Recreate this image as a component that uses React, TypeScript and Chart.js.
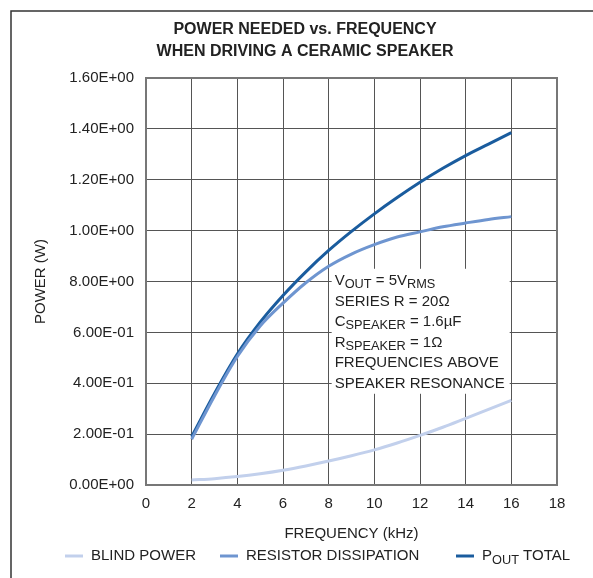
import React, { useEffect, useRef } from "react";
import { Chart, registerables } from "chart.js";

Chart.register(...registerables);

const titleLines = ["POWER NEEDED vs. FREQUENCY", "WHEN DRIVING A CERAMIC SPEAKER"];
const xAxisTitle = "FREQUENCY (kHz)";
const yAxisTitle = "POWER (W)";
const yTickLabels = [
  "0.00E+00",
  "2.00E-01",
  "4.00E-01",
  "6.00E-01",
  "8.00E+00",
  "1.00E+00",
  "1.20E+00",
  "1.40E+00",
  "1.60E+00",
];
const frequencyKHz = [2, 3, 4, 5, 6, 7, 8, 9, 10, 11, 12, 13, 14, 15, 16];
const blindPower = [0.02, 0.025, 0.033, 0.044, 0.058, 0.075, 0.094, 0.115, 0.138, 0.165, 0.195, 0.227, 0.262, 0.297, 0.333];
const resistorDissipation = [0.18, 0.35, 0.505, 0.625, 0.715, 0.795, 0.86, 0.908, 0.945, 0.975, 0.995, 1.015, 1.03, 1.044, 1.055];
const poutTotal = [0.19, 0.36, 0.515, 0.64, 0.745, 0.838, 0.922, 0.997, 1.066, 1.13, 1.19, 1.245, 1.295, 1.34, 1.385];
const seriesNames = ["BLIND POWER", "RESISTOR DISSIPATION", "P_{OUT} TOTAL"];
const seriesColors = ["#c2d0ec", "#6e95d0", "#1a5c9e"];
const noteLines = [
  "V_{OUT} = 5V_{RMS}",
  "SERIES R = 20Ω",
  "C_{SPEAKER} = 1.6µF",
  "R_{SPEAKER} = 1Ω",
  "FREQUENCIES ABOVE",
  "SPEAKER RESONANCE",
];

const FONT = '"Liberation Sans", Arial, Helvetica, sans-serif';
const TEXT_COLOR = "#222";

type Part = { t: string; sub: boolean };
function parseRich(s: string): Part[] {
  const parts: Part[] = [];
  const re = /_\{([^}]*)\}/g;
  let last = 0;
  let m: RegExpExecArray | null;
  while ((m = re.exec(s))) {
    if (m.index > last) parts.push({ t: s.slice(last, m.index), sub: false });
    parts.push({ t: m[1], sub: true });
    last = re.lastIndex;
  }
  if (last < s.length) parts.push({ t: s.slice(last), sub: false });
  return parts;
}

function drawRich(ctx: CanvasRenderingContext2D, s: string, x: number, y: number, size: number) {
  let cx = x;
  for (const p of parseRich(s)) {
    ctx.font = `${p.sub ? size * 0.85 : size}px ${FONT}`;
    ctx.fillText(p.t, cx, p.sub ? y + 4 : y);
    cx += ctx.measureText(p.t).width;
  }
  return cx;
}

const decorPlugin = {
  id: "decor",
  beforeDraw(chart: any) {
    const ctx: CanvasRenderingContext2D = chart.ctx;
    ctx.save();
    ctx.fillStyle = "#fff";
    ctx.fillRect(0, 0, chart.width, chart.height);
    ctx.strokeStyle = "#333";
    ctx.lineWidth = 1.5;
    ctx.beginPath();
    ctx.moveTo(11, chart.height + 2);
    ctx.lineTo(11, 11);
    ctx.lineTo(chart.width + 2, 11);
    ctx.stroke();
    ctx.fillStyle = TEXT_COLOR;
    ctx.font = `bold 16px ${FONT}`;
    ctx.textAlign = "center";
    ctx.textBaseline = "middle";
    titleLines.forEach((line, i) => ctx.fillText(line, 305, 30 + i * 22));
    ctx.restore();
  },
  beforeDatasetsDraw(chart: any) {
    const ctx: CanvasRenderingContext2D = chart.ctx;
    const { left, top, right, bottom } = chart.chartArea;
    const xs = chart.scales.x;
    const ys = chart.scales.y;
    ctx.save();
    ctx.strokeStyle = "#777";
    ctx.lineWidth = 2;
    ctx.strokeRect(left, top, right - left, bottom - top);
    const bx = xs.getPixelForValue(8) + 3;
    const by = ys.getPixelForValue(0.85);
    ctx.fillStyle = "#fff";
    ctx.fillRect(bx, by, 178, 125);
    ctx.fillStyle = TEXT_COLOR;
    ctx.textAlign = "left";
    ctx.textBaseline = "middle";
    noteLines.forEach((line, i) => drawRich(ctx, line, bx + 3, by + 12 + i * 20.6, 15));
    ctx.restore();
  },
  afterDraw(chart: any) {
    const ctx: CanvasRenderingContext2D = chart.ctx;
    ctx.save();
    const starts = [65, 220, 456];
    const y = 556;
    ctx.textAlign = "left";
    ctx.textBaseline = "middle";
    seriesNames.forEach((name, i) => {
      const x0 = starts[i];
      ctx.strokeStyle = seriesColors[i];
      ctx.lineWidth = 3;
      ctx.beginPath();
      ctx.moveTo(x0, y);
      ctx.lineTo(x0 + 18, y);
      ctx.stroke();
      ctx.fillStyle = TEXT_COLOR;
      drawRich(ctx, name, x0 + 26, y, 15);
    });
    ctx.restore();
  },
};

function toPoints(values: number[]) {
  return values.map((v, i) => ({ x: frequencyKHz[i], y: v }));
}

export default function App() {
  const canvasRef = useRef<HTMLCanvasElement | null>(null);

  useEffect(() => {
    document.body.style.margin = "0";
    const canvas = canvasRef.current;
    if (!canvas) return;
    const seriesValues = [blindPower, resistorDissipation, poutTotal];
    const chart = new Chart(canvas, {
      type: "line",
      data: {
        datasets: seriesValues.map((vals, i) => ({
          label: seriesNames[i],
          data: toPoints(vals),
          borderColor: seriesColors[i],
          backgroundColor: seriesColors[i],
          borderWidth: 3,
          pointRadius: 0,
          cubicInterpolationMode: "monotone" as const,
          fill: false,
        })),
      },
      options: {
        animation: false,
        responsive: false,
        maintainAspectRatio: false,
        layout: { padding: { left: 0, right: 36, top: 78, bottom: 0 } },
        plugins: {
          legend: { display: false },
          title: { display: false },
          tooltip: { enabled: false },
        },
        scales: {
          x: {
            type: "linear",
            min: 0,
            max: 18,
            ticks: {
              stepSize: 2,
              color: TEXT_COLOR,
              font: { family: FONT, size: 15 },
              padding: 10,
              maxRotation: 0,
            },
            grid: { color: "#555", lineWidth: 1, drawTicks: false },
            border: { color: "#555", width: 2 },
            title: {
              display: true,
              text: xAxisTitle,
              color: TEXT_COLOR,
              font: { family: FONT, size: 15 },
              padding: { top: 0, bottom: 35 },
            },
            afterFit(scale: any) {
              scale.height = 93;
            },
          },
          y: {
            type: "linear",
            min: 0,
            max: 1.6,
            ticks: {
              stepSize: 0.2,
              color: TEXT_COLOR,
              font: { family: FONT, size: 15 },
              padding: 12,
              callback: (_v: any, index: number) => yTickLabels[index],
            },
            grid: { color: "#555", lineWidth: 1, drawTicks: false },
            border: { color: "#555", width: 2 },
            title: {
              display: true,
              text: yAxisTitle,
              color: TEXT_COLOR,
              font: { family: FONT, size: 15 },
              padding: { top: 32, bottom: 0 },
            },
            afterFit(scale: any) {
              scale.width = 146;
            },
          },
        },
      },
      plugins: [decorPlugin],
    });
    return () => chart.destroy();
  }, []);

  return (
    <div style={{ position: "absolute", left: 0, top: 0, width: 593, height: 578 }}>
      <canvas ref={canvasRef} width={593} height={578} style={{ width: 593, height: 578, display: "block" }} />
    </div>
  );
}
